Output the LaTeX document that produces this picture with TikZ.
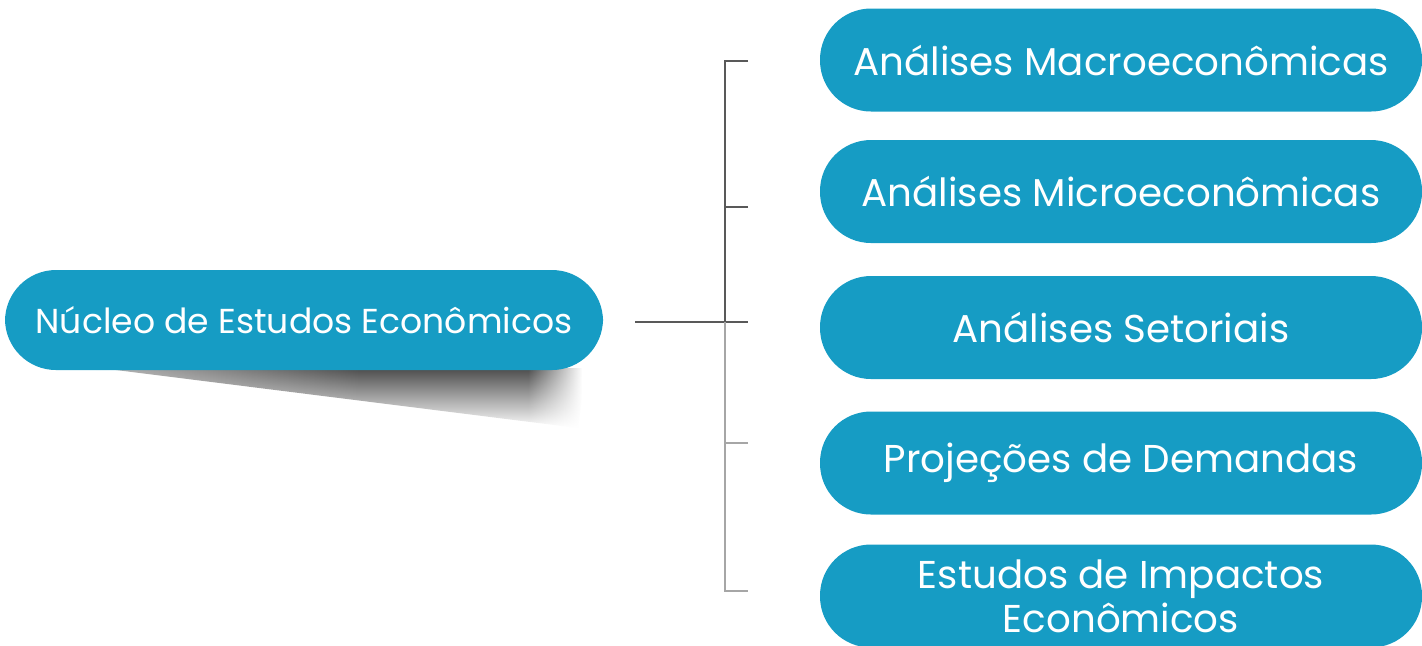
\documentclass[tikz,border=0pt]{standalone}
\usepackage{fontspec}
\setmainfont{Poppins}
\usetikzlibrary{positioning,fadings}
\definecolor{azul}{HTML}{169CC4}
\tikzset{
  caixa/.style={fill=azul,text=white,rounded corners=25.5pt,minimum width=301pt,
    minimum height=51.5pt,inner sep=0pt,align=center,font=\fontsize{19.4}{22}\selectfont},
  ramo/.style={line width=1pt,draw=black!65},
  ramoclaro/.style={line width=1pt,draw=black!35}
}
\begin{document}
\begin{tikzpicture}[x=0.5pt,y=-0.5pt]
\useasboundingbox (0,0) rectangle (1422,645);
% sombra
\shade[top color=black!70,bottom color=white] (100,368) -- (586,368) -- (578,428) -- cycle;
\fill[white,path fading=west] (528,366) rectangle (582,432);
\fill[white] (582,366) rectangle (592,432);
\fill[white,opacity=0.6,path fading=east] (96,366) rectangle (360,432);
\node[caixa,minimum width=299pt,minimum height=50pt,font=\fontsize{17.3}{20}\selectfont] (nucleo) at (304,320) {Núcleo de Estudos Econômicos};
\node[caixa] (macro) at (1121,60) {Análises Macroeconômicas};
\node[caixa] (micro) at (1121,191.5) {Análises Microeconômicas};
\node[caixa] (setor) at (1121,327.5) {Análises Setoriais};
\node[caixa] (demanda) at (1121,463) {Projeções de Demandas};
\node[caixa] (impacto) at (1121,596) {Estudos de Impactos\\Econômicos};
% chave
\coordinate (haste) at (725,322);
\coordinate (t1) at (748,61);
\coordinate (t2) at (748,207);
\coordinate (t3) at (748,322);
\coordinate (t4) at (748,443);
\coordinate (t5) at (748,591);
\draw[ramo] ([xshift=16pt]t3 -| nucleo.east) -- (t3);
\draw[ramo] (t1) -- (t1 -| haste) -- (haste);
\draw[ramo] (t2) -- (t2 -| haste);
\draw[ramoclaro] (haste) |- (t5);
\draw[ramoclaro] (t4) -- (t4 -| haste);
\end{tikzpicture}
\end{document}
